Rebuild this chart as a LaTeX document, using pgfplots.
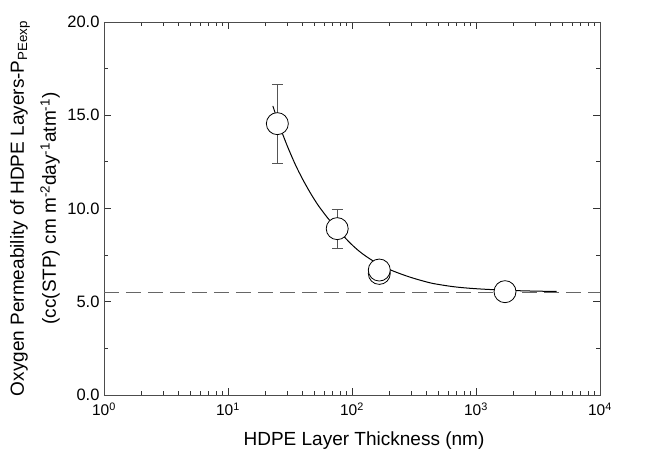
\documentclass[border=0pt]{standalone}
\usepackage{fontspec}
\setmainfont{Liberation Sans}
\usepackage{pgfplots}
\pgfplotsset{compat=1.18}

\definecolor{errgray}{HTML}{555555}
\definecolor{dashgray}{HTML}{666666}

\newcommand{\xt}[1]{\fontsize{15.5}{18}\selectfont 10\textsuperscript{#1}}

\begin{document}
\begin{tikzpicture}
\begin{axis}[
    scale only axis,
    width=496pt, height=373pt,
    xmode=log,
    xmin=1, xmax=10000,
    ymin=0, ymax=20,
    xtick={1,10,100,1000,10000},
    xticklabels={\xt{0},\xt{1},\xt{2},\xt{3},\xt{4}},
    minor xtick={2,3,4,5,6,7,8,9,20,30,40,50,60,70,80,90,200,300,400,500,600,700,800,900,2000,3000,4000,5000,6000,7000,8000,9000},
    ytick={0,5,10,15,20},
    minor y tick num=1,
    yticklabel={\fontsize{16.5}{19}\selectfont\pgfmathprintnumber[fixed,fixed zerofill,precision=1,assume math mode=true]{\tick}},
    xticklabel style={yshift=-4.5pt},
    yticklabel style={xshift=-1pt},
    major tick length=7pt,
    minor tick length=4pt,
    axis line style={line width=0.9pt, black!70},
    every tick/.style={line width=0.8pt, black!80},
    xlabel={HDPE Layer Thickness (nm)},
    ylabel={Oxygen Permeability of HDPE Layers-P\textsubscript{PEexp}\\(cc(STP) cm m\textsuperscript{-2}day\textsuperscript{-1}atm\textsuperscript{-1})},
    xlabel style={font=\fontsize{19}{22}\selectfont, at={(rel axis cs:0.5,0)}, anchor=center, yshift=-46pt, xshift=12pt},
    ylabel style={font=\fontsize{19}{32}\selectfont, align=center, at={(rel axis cs:0,0.5)}, anchor=center, yshift=69pt},
    clip=false,
]
% asymptote
\addplot[dashgray, line width=0.9pt, dash pattern=on 15pt off 7pt] coordinates {(1,5.52) (10000,5.52)};

% error bars
\addplot[only marks, mark=none,
    error bars/.cd, y dir=both, y explicit,
    error bar style={draw=errgray, line width=0.8pt},
    error mark options={rotate=90, mark size=5.5pt, draw=errgray, line width=0.8pt}]
  coordinates {
    (25,14.55) += (0,2.11) -= (0,2.13)
    (76,8.92) += (0,1.04) -= (0,1.05)
  };

% measured points
\addplot[only marks, mark=*, mark size=11pt,
    mark options={fill=white, draw=black, line width=0.8pt}]
  coordinates {
    (25,14.55) (76,8.92) (166,6.52) (166,6.70) (1714,5.54)
  };

% fitted curve
\addplot[black, line width=1pt, smooth] coordinates {
    (23,15.5) (26,14.45) (30,13.37) (35,12.34) (40,11.57) (46,10.85)
    (53,10.2) (61,9.65) (70,9.16) (76,8.9) (90,8.36) (105,7.92)
    (120,7.6) (140,7.29) (170,6.96) (202,6.72) (250,6.48) (300,6.3)
    (353,6.16) (450,5.98) (653,5.81) (900,5.72) (1219,5.665) (1700,5.62)
    (2263,5.59) (3000,5.57) (4475,5.55)
};

\coordinate (sw) at (rel axis cs:0,0);
\coordinate (ne) at (rel axis cs:1,1);
\end{axis}
\path ([shift={(-104pt,-62pt)}]sw) rectangle ([shift={(49pt,22pt)}]ne);
\end{tikzpicture}
\end{document}
